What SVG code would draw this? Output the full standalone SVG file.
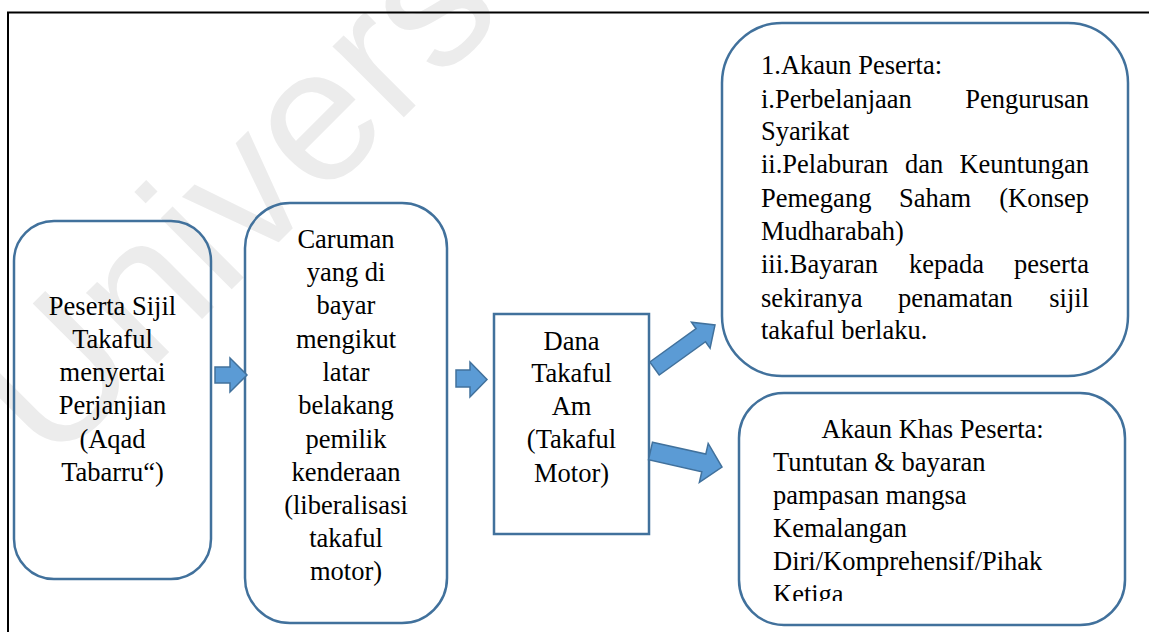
<svg xmlns="http://www.w3.org/2000/svg" width="1149" height="632" viewBox="0 0 1149 632">
<style>
.box{fill:none;stroke:#41719C;stroke-width:2.5}
.arr{fill:#5B9BD5;stroke:#41719C;stroke-width:1.5;stroke-linejoin:miter}
.t{font-family:"Liberation Serif","Times New Roman",serif;font-size:26.5px;fill:#000}
.c{text-anchor:middle}
.e{text-anchor:end}
.wm{font-family:"Liberation Sans",Arial,sans-serif;font-size:190px;fill:#ececec}
</style>
<defs>
<clipPath id="clip5"><rect x="740" y="394" width="384" height="207"/></clipPath>
</defs>
<rect x="0" y="0" width="1149" height="632" fill="#fff"/>
<text class="wm" transform="translate(51,470) rotate(-45)">Univers</text>
<g id="frame" fill="none" stroke="#000" stroke-width="2">
<line x1="7" y1="12.5" x2="1149" y2="12.5"/>
<line x1="8" y1="12" x2="8" y2="632"/>
</g>
<g id="node1">
<rect class="box" x="14" y="221" width="197" height="358" rx="40" ry="40"/>
<text class="t c" x="112.5"><tspan x="112.5" y="315">Peserta Sijil</tspan><tspan x="112.5" y="348">Takaful</tspan><tspan x="112.5" y="381">menyertai</tspan><tspan x="112.5" y="414">Perjanjian</tspan><tspan x="112.5" y="448">(Aqad</tspan><tspan x="112.5" y="481">Tabarru“)</tspan></text>
</g>
<g id="node2">
<rect class="box" x="245" y="203" width="202" height="420" rx="45" ry="45"/>
<text class="t c"><tspan x="346" y="248">Caruman</tspan><tspan x="346" y="281">yang di</tspan><tspan x="346" y="314">bayar</tspan><tspan x="346" y="348">mengikut</tspan><tspan x="346" y="381">latar</tspan><tspan x="346" y="414">belakang</tspan><tspan x="346" y="448">pemilik</tspan><tspan x="346" y="481">kenderaan</tspan><tspan x="346" y="514">(liberalisasi</tspan><tspan x="346" y="547">takaful</tspan><tspan x="346" y="580">motor)</tspan></text>
</g>
<g id="node3">
<rect class="box" x="494" y="314" width="155" height="220"/>
<text class="t c"><tspan x="571.5" y="350">Dana</tspan><tspan x="571.5" y="382">Takaful</tspan><tspan x="571.5" y="415">Am</tspan><tspan x="571.5" y="448">(Takaful</tspan><tspan x="571.5" y="482">Motor)</tspan></text>
</g>
<g id="node4">
<rect class="box" x="722" y="23" width="406" height="353" rx="60" ry="60"/>
<text class="t"><tspan x="761" y="74">1.Akaun Peserta:</tspan></text>
<text class="t" x="761" y="108">i.Perbelanjaan</text>
<text class="t e" x="1089" y="108">Pengurusan</text>
<text class="t" x="761" y="140">Syarikat</text>
<text class="t" x="761" y="173">ii.Pelaburan</text>
<text class="t" x="905" y="173">dan</text>
<text class="t e" x="1089" y="173">Keuntungan</text>
<text class="t" x="761" y="207">Pemegang</text>
<text class="t" x="899" y="207">Saham</text>
<text class="t e" x="1089" y="207">(Konsep</text>
<text class="t" x="761" y="240">Mudharabah)</text>
<text class="t" x="761" y="273">iii.Bayaran</text>
<text class="t" x="909" y="273">kepada</text>
<text class="t e" x="1089" y="273">peserta</text>
<text class="t" x="761" y="307">sekiranya</text>
<text class="t" x="898" y="307">penamatan</text>
<text class="t e" x="1089" y="307">sijil</text>
<text class="t" x="761" y="339">takaful berlaku.</text>
</g>
<g id="node5">
<rect class="box" x="739" y="393" width="386" height="232" rx="45" ry="45"/>
<g clip-path="url(#clip5)">
<text class="t c" x="932.5" y="438">Akaun Khas Peserta:</text>
<text class="t"><tspan x="773" y="471">Tuntutan &amp; bayaran</tspan><tspan x="773" y="504">pampasan mangsa</tspan><tspan x="773" y="537">Kemalangan</tspan><tspan x="773" y="570">Diri/Komprehensif/Pihak</tspan><tspan x="773" y="603">Ketiga</tspan></text>
</g>
</g>
<g id="connectors">
<polygon class="arr" points="215,367 230,367 230,358 247,375 230,392 230,383 215,383"/>
<polygon class="arr" points="456,370 470,370 470,362 487,379.5 470,397 470,387 456,387"/>
<polygon class="arr" points="649.8,362 696.1,328.7 691.5,322.2 715,325 710.1,348.2 705.5,341.7 659.2,375"/>
<polygon class="arr" points="652.5,442.2 705.8,454.1 708.2,443.4 722,467 699.4,482.4 701.8,471.7 648.5,459.8"/>
</g>
</svg>
